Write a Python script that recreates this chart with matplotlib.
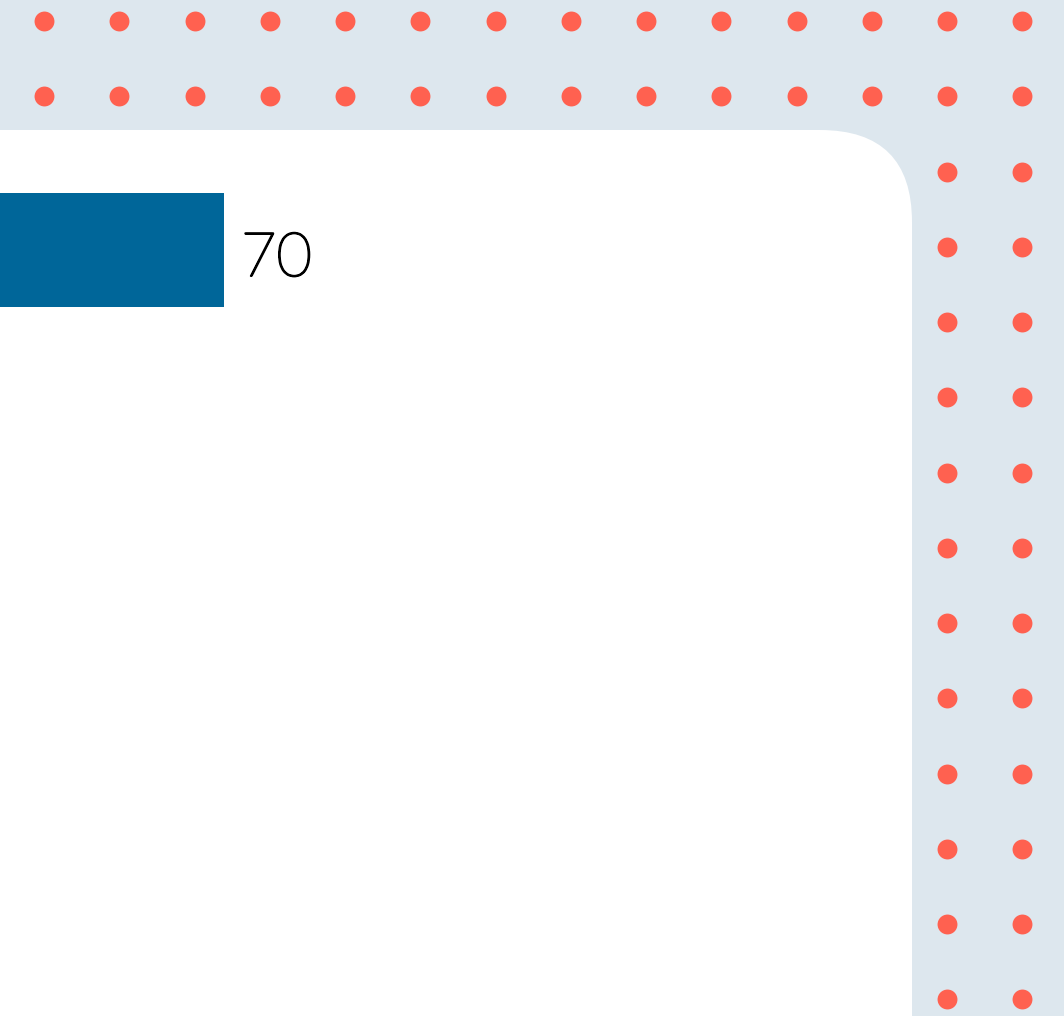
import matplotlib
matplotlib.use("Agg")
import matplotlib.pyplot as plt
import matplotlib.patheffects as pe
from matplotlib.patches import FancyBboxPatch
import numpy as np

# data
categories = ["A"]
values = [70]
labels = ["70"]

W, H = 1064, 1016
fig = plt.figure(figsize=(W / 100, H / 100), dpi=100)
fig.patch.set_facecolor("#dde7ee")

# decoration layer in pixel coords (y down)
deco = fig.add_axes([0, 0, 1, 1])
deco.set_xlim(0, W)
deco.set_ylim(H, 0)
deco.axis("off")

# white panel, only top-right corner rounded is visible
panel = FancyBboxPatch((-200, 130), 912 + 200, H + 200,
                       boxstyle="round,pad=0,rounding_size=92",
                       facecolor="white", edgecolor="none")
deco.add_patch(panel)

# dots around the panel
step = 75.25
xs = 44 + step * np.arange(14)
ys = 21 + step * np.arange(14)
gx, gy = np.meshgrid(xs, ys)
gx, gy = gx.ravel(), gy.ravel()
keep = ~((gx < 912) & (gy > 130))
deco.scatter(gx[keep], gy[keep], s=205, color="#ff6150", linewidths=0)

# bar chart
ax = fig.add_axes([0, 1 - 307 / H, 912 / W, 114 / H])
ax.set_xlim(0, 70 * 912 / 224)
ax.set_ylim(-0.5, 0.5)
ax.barh(0, values[0], height=1, color="#006699")
t = ax.text(values[0] + 17 * (70 / 224), -26 / 114, labels[0], ha="left", va="baseline",
            fontsize=44, family="Lato", fontweight="light", color="black", clip_on=False)
t.set_path_effects([pe.withStroke(linewidth=1.4, foreground="black")])
ax.axis("off")

fig.savefig("out.png", dpi=100)
